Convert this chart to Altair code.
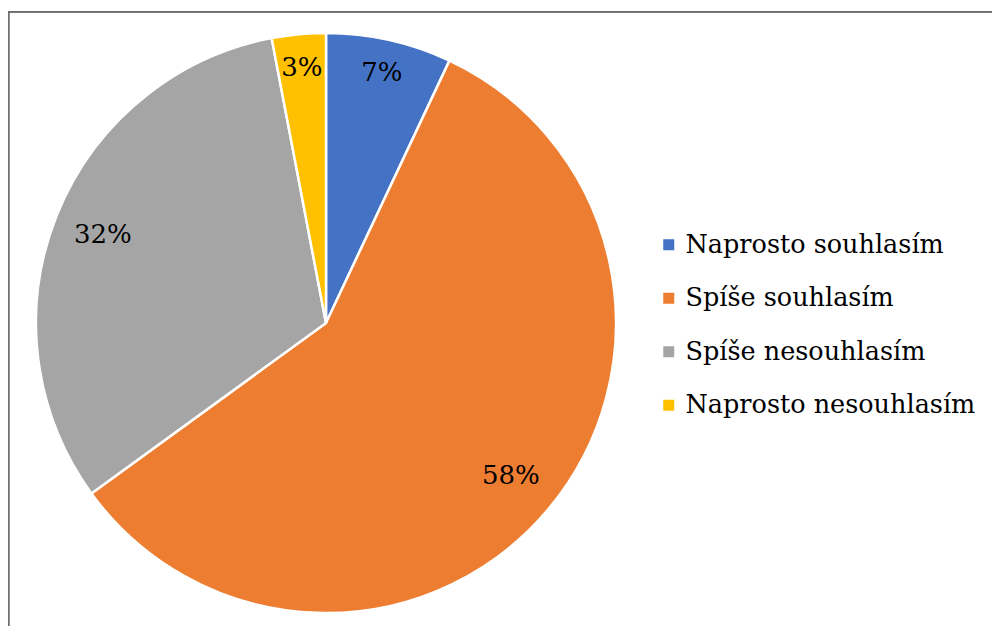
import altair as alt
import pandas as pd
import math

categories = ["Naprosto souhlasím", "Spíše souhlasím", "Spíše nesouhlasím", "Naprosto nesouhlasím"]
values = [7, 58, 32, 3]
labels = ["7%", "58%", "32%", "3%"]
colors = ["#4472C4", "#ED7D31", "#A5A5A5", "#FFC000"]

df = pd.DataFrame({"cat": categories, "val": values, "label": labels, "idx": list(range(len(categories)))})

CX, CY = 318, 315
R = 290
FONT = "DejaVu Serif"

pie = alt.Chart(df).mark_arc(outerRadius=R, stroke="white", strokeWidth=2.5).encode(
    theta=alt.Theta("val:Q", stack=True),
    order=alt.Order("idx:Q"),
    color=alt.Color(
        "cat:N",
        scale=alt.Scale(domain=categories, range=colors),
        legend=alt.Legend(
            title=None, orient="none", legendX=648, legendY=224,
            symbolType="square", symbolSize=121, symbolStrokeWidth=0,
            labelFont=FONT, labelFontSize=25.5, labelColor="#000000",
            labelOffset=4, rowPadding=26.5, labelLimit=400,
        ),
    ),
    x=alt.value(CX),
    y=alt.value(CY),
)

text_base = alt.Chart(df).transform_window(
    cum="sum(val)", sort=[alt.SortField("idx")], frame=[None, 0]
).transform_calculate(
    mid="datum.cum - datum.val / 2"
)

def text_layer(cond, radius):
    return text_base.transform_filter(cond).mark_text(
        radius=radius, font=FONT, fontSize=26, color="#000000",
        align="center", baseline="middle",
    ).encode(
        theta=alt.Theta("mid:Q", scale=alt.Scale(domain=[0, 100], range=[0, 2 * math.pi])),
        text="label:N",
        x=alt.value(CX),
        y=alt.value(CY),
    )

small_labels = text_layer("datum.val < 10", 256)
big_labels = text_layer("datum.val >= 10", 240)

top_border = alt.Chart(df).mark_rule(color="#707070", strokeWidth=1.6).encode(
    x=alt.value(0), x2=alt.value(984), y=alt.value(3.8)
)
left_border = alt.Chart(df).mark_rule(color="#707070", strokeWidth=1.6).encode(
    x=alt.value(0.5), y=alt.value(3.8), y2=alt.value(618)
)

chart = alt.layer(pie, small_labels, big_labels, top_border, left_border).properties(
    width=984, height=618, padding=0, autosize=alt.AutoSizeParams(type="none"),
    background="white",
).configure_view(stroke=None)

chart.save("out.html", embed_options={"renderer": "svg", "actions": False})
